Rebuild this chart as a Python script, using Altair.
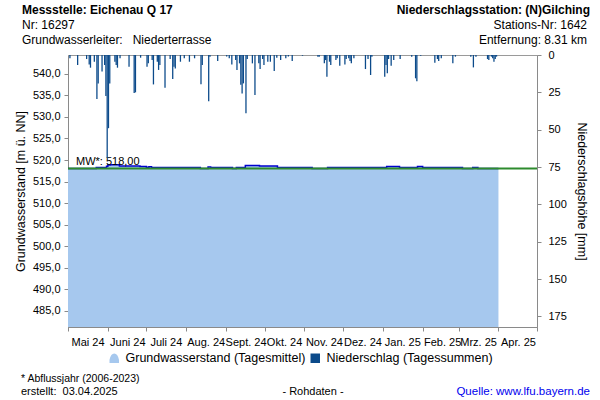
import json
import altair as alt
import pandas as pd

FONT = "Liberation Sans"

# ---------------- data ----------------
# Groundwater level (daily means, read as steps where the level changes), m ü. NN
gw_dates = ["2024-05-01", "2024-05-23", "2024-05-31", "2024-06-01", "2024-06-03",
            "2024-06-10", "2024-06-26", "2024-07-01", "2024-07-03", "2024-07-05",
            "2024-08-12", "2024-08-18", "2024-08-20", "2024-09-06", "2024-09-09",
            "2024-09-16", "2024-09-27", "2024-10-11", "2024-11-07", "2024-11-19",
            "2025-01-04", "2025-01-14", "2025-01-28", "2025-02-01", "2025-03-04",
            "2025-03-12", "2025-03-16", "2025-04-01"]
gw_values = [518.03, 518.28, 518.55, 518.85, 518.92,
             518.62, 518.48, 518.30, 518.45, 518.28,
             518.03, 518.38, 518.28, 518.05, 518.28,
             518.75, 518.62, 518.28, 518.03, 518.28,
             518.52, 518.28, 518.52, 518.28, 518.03,
             518.25, 518.03, 518.03]

# Daily precipitation sums, mm
prec_dates = ["2024-05-02", "2024-05-08", "2024-05-15", "2024-05-17", "2024-05-18",
              "2024-05-21", "2024-05-23", "2024-05-24", "2024-05-27", "2024-05-29",
              "2024-05-30", "2024-05-31", "2024-06-01", "2024-06-02", "2024-06-06",
              "2024-06-07", "2024-06-08", "2024-06-10", "2024-06-17", "2024-06-21",
              "2024-06-22", "2024-06-26", "2024-07-01", "2024-07-02", "2024-07-05",
              "2024-07-06", "2024-07-09", "2024-07-10", "2024-07-11", "2024-07-15",
              "2024-07-19", "2024-07-21", "2024-07-22", "2024-07-23", "2024-07-27",
              "2024-07-30", "2024-08-03", "2024-08-07", "2024-08-12", "2024-08-13",
              "2024-08-18", "2024-08-19", "2024-08-25", "2024-09-01", "2024-09-03",
              "2024-09-05", "2024-09-08", "2024-09-09", "2024-09-11", "2024-09-12",
              "2024-09-13", "2024-09-14", "2024-09-16", "2024-09-17", "2024-09-21",
              "2024-09-23", "2024-09-26", "2024-09-27", "2024-09-29", "2024-09-30",
              "2024-10-03", "2024-10-05", "2024-10-08", "2024-10-10", "2024-10-13",
              "2024-10-17", "2024-10-19", "2024-10-22", "2024-10-30", "2024-11-11",
              "2024-11-12", "2024-11-16", "2024-11-17", "2024-11-18", "2024-11-20",
              "2024-11-21", "2024-11-25", "2024-11-26", "2024-11-28", "2024-12-02",
              "2024-12-03", "2024-12-05", "2024-12-06", "2024-12-07", "2024-12-09",
              "2024-12-18", "2024-12-20", "2024-12-22", "2024-12-23", "2025-01-02",
              "2025-01-03", "2025-01-04", "2025-01-05", "2025-01-07", "2025-01-09",
              "2025-01-14", "2025-01-23", "2025-01-26", "2025-01-27", "2025-01-30",
              "2025-02-10", "2025-02-12", "2025-02-13", "2025-02-15", "2025-02-24",
              "2025-02-26", "2025-03-10", "2025-03-12", "2025-03-14", "2025-03-23",
              "2025-03-24", "2025-03-26", "2025-03-27", "2025-03-28", "2025-03-29",
              "2025-03-30"]
prec_values = [2.2, 6.7, 2.7, 6.3, 8.5,
               4.5, 29.5, 19.0, 11.0, 6.7,
               27.5, 69.0, 49.0, 19.0, 4.5,
               6.7, 8.5, 2.2, 7.8, 25.5,
               25.0, 1.8, 7.8, 5.6, 3.4,
               19.7, 4.5, 10.0, 6.7, 22.0,
               2.7, 16.0, 7.8, 9.0, 4.5,
               2.2, 4.5, 2.2, 19.5, 6.7,
               31.0, 1.1, 4.0, 1.0, 2.2,
               6.3, 3.4, 10.0, 5.6, 20.0,
               25.7, 19.0, 39.0, 2.7, 5.6,
               26.8, 5.6, 9.4, 2.7, 6.7,
               4.5, 4.5, 10.7, 1.8, 3.4,
               2.2, 1.0, 4.0, 0.5, 1.1,
               1.1, 5.6, 3.4, 14.5, 4.5,
               6.7, 3.4, 2.2, 7.2, 6.3,
               2.7, 2.2, 4.0, 5.6, 2.2,
               9.4, 2.7, 13.4, 1.1, 14.5,
               6.7, 12.3, 2.7, 7.2, 3.4,
               2.7, 1.1, 15.6, 17.5, 0.5,
               5.2, 2.7, 4.0, 2.2, 5.6,
               1.1, 1.1, 8.3, 1.1, 2.7,
               3.4, 1.1, 2.2, 4.5, 2.7,
               1.1]

month_labels = ["Mai 24", "Juni 24", "Juli 24", "Aug. 24", "Sept. 24", "Okt. 24",
                "Nov. 24", "Dez. 24", "Jan. 25", "Feb. 25", "Mrz. 25", "Apr. 25", ""]
mw_value = 518.00
mw_text = "MW*: 518,00"
gw_ticks = [485, 490, 495, 500, 505, 510, 515, 520, 525, 530, 535, 540]
prec_ticks = [0, 25, 50, 75, 100, 125, 150, 175]
GW_MIN, GW_MAX = 481.2, 544.4
PR_MAX = 182.1

GW_NAME = "Grundwasserstand (Tagesmittel)"
PR_NAME = "Niederschlag (Tagessummen)"

# ---------------- tables ----------------
gw_df = pd.DataFrame({"datum": pd.to_datetime(gw_dates), "stand": gw_values, "serie": GW_NAME})
pr_df = pd.DataFrame({"datum": pd.to_datetime(prec_dates), "mm": prec_values, "serie": PR_NAME})
pr_df["ende"] = pr_df["datum"] + pd.Timedelta(days=1)

W, H = 469, 272

month_ticks = [alt.DateTime(year=2024 + (4 + i) // 12, month=(4 + i) % 12 + 1, date=1) for i in range(13)]
x_scale = alt.Scale(domain=[month_ticks[0], month_ticks[-1]], nice=False)
x_axis = alt.Axis(
    title=None, values=month_ticks, grid=False,
    labelExpr=json.dumps(month_labels) + "[(year(datum.value)-2024)*12 + month(datum.value) - 4]",
    labelOffset=19.5, labelAlign="center", labelFlush=False, labelOverlap=False,
    tickSize=4, labelPadding=5, labelFontSize=11,
)
gw_scale = alt.Scale(domain=[GW_MIN, GW_MAX], nice=False, zero=False)
gw_axis = alt.Axis(
    title="Grundwasserstand [m ü. NN]", values=gw_ticks, grid=False,
    labelExpr="replace(format(datum.value, '.1f'), '.', ',')",
    tickSize=4, labelPadding=4, labelFontSize=11,
    titleFontSize=12.5, titleFontWeight="normal", titleX=-41, titleY=H / 2,
    titleAngle=-90, titleAlign="center", titleBaseline="bottom",
)
pr_scale = alt.Scale(domain=[0, PR_MAX], reverse=True, nice=False, zero=True)
pr_axis = alt.Axis(
    orient="right", title="Niederschlagshöhe [mm]", values=prec_ticks, grid=False,
    format="d", tickSize=4, labelPadding=7, labelFontSize=11,
    titleFontSize=12.5, titleFontWeight="normal", titleX=37, titleY=H / 2,
    titleAngle=90, titleAlign="center", titleBaseline="bottom",
)

dome = "M-1,1 L-1,0.3 Q-0.7,-1 0,-1 Q0.7,-1 1,0.3 L1,1 Z"

area = alt.Chart(gw_df).mark_area(interpolate="step-after", opacity=1).encode(
    x=alt.X("datum:T", scale=x_scale, axis=x_axis),
    y=alt.Y("stand:Q", scale=gw_scale, axis=gw_axis),
    y2=alt.datum(GW_MIN),
    fill=alt.Fill("serie:N", scale=alt.Scale(domain=[GW_NAME], range=["#A6C8EE"]),
                  legend=alt.Legend(orient="none", legendX=40, legendY=297, direction="horizontal",
                                    title=None, symbolType=dome, symbolSize=90,
                                    labelFontSize=12.5, labelFont=FONT, labelColor="#000000",
                                    labelLimit=400, padding=0, labelOffset=5,
                                    symbolStrokeWidth=0)),
)
gw_line = alt.Chart(gw_df).mark_line(interpolate="step-after", color="#0000CD", strokeWidth=1.5).encode(
    x=alt.X("datum:T", scale=x_scale, axis=x_axis),
    y=alt.Y("stand:Q", scale=gw_scale, axis=gw_axis),
)
mw_rule = alt.Chart(pd.DataFrame({"mw": [mw_value]})).mark_rule(color="#2E8B2E", strokeWidth=2).encode(
    y=alt.Y("mw:Q", scale=gw_scale, axis=gw_axis),
)
mw_label = alt.Chart(pd.DataFrame({"mw": [mw_value], "t": [mw_text]})).mark_text(
    align="left", baseline="bottom", dy=-2, fontSize=11, font=FONT, color="#000000"
).encode(
    x=alt.value(8),
    y=alt.Y("mw:Q", scale=gw_scale, axis=gw_axis),
    text="t:N",
)
gw_layer = alt.layer(area, gw_line, mw_rule, mw_label)

bars = alt.Chart(pr_df).mark_bar().encode(
    x=alt.X("datum:T", scale=x_scale, axis=x_axis),
    x2="ende:T",
    y=alt.Y("mm:Q", scale=pr_scale, axis=pr_axis),
    y2=alt.datum(0),
    color=alt.Color("serie:N", scale=alt.Scale(domain=[PR_NAME], range=["#0B4A8A"]),
                    legend=alt.Legend(orient="none", legendX=241, legendY=297, direction="horizontal",
                                      title=None, symbolType="square", symbolSize=90,
                                      labelFontSize=12.5, labelFont=FONT, labelColor="#000000",
                                      labelLimit=400, padding=0, labelOffset=5,
                                      symbolStrokeWidth=0)),
)


def label(text, x, y, size=12, weight="normal", align="left", color="#000000"):
    return alt.Chart(pd.DataFrame({"t": [text]})).mark_text(
        align=align, baseline="alphabetic", fontSize=size, fontWeight=weight,
        color=color, font=FONT,
    ).encode(text="t:N", x=alt.value(x), y=alt.value(y))


texts = [
    label("Messstelle: Eichenau Q 17", -46, -41, weight="bold"),
    label("Nr: 16297", -46, -26),
    label("Grundwasserleiter:\u00a0\u00a0\u00a0Niederterrasse", -46, -11),
    label("Niederschlagsstation: (N)Gilching", 522, -41, weight="bold", align="right"),
    label("Stations-Nr: 1642", 519, -26, align="right"),
    label("Entfernung: 8.31 km", 519, -11, align="right"),
    label("* Abflussjahr (2006-2023)", -47, 327, size=10.5),
    label("erstellt:\u00a0\u00a003.04.2025", -47, 340, size=11),
    label("- Rohdaten -", 245, 340, size=11, align="center"),
    label("Quelle: www.lfu.bayern.de", 522, 340, size=11.5, align="right", color="#0000EE"),
]

chart = alt.layer(gw_layer, bars, *texts).resolve_scale(y="independent").properties(
    width=W, height=H,
    autosize=alt.AutoSizeParams(type="none"),
    padding={"left": 68, "top": 55, "right": 63, "bottom": 73},
    background="#FFFFFF",
).configure(font=FONT).configure_view(
    stroke="#9A9A9A", strokeWidth=1
).configure_axis(
    domainColor="#8A8A8A", tickColor="#8A8A8A", labelColor="#000000", titleColor="#000000",
    labelFont=FONT, titleFont=FONT,
)

chart.save("out.html", embed_options={"renderer": "svg", "actions": False})
